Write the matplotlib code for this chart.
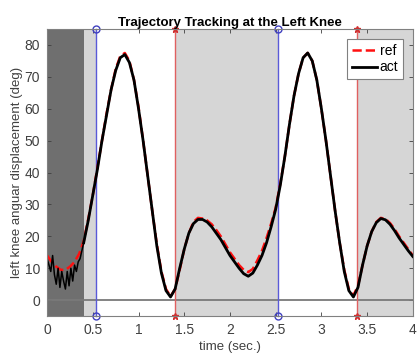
import numpy as np
import matplotlib
matplotlib.use('Agg')
import matplotlib.pyplot as plt

plt.rcParams['font.family'] = ['Liberation Sans', 'DejaVu Sans']

# measured knee angle (noisy start, then sampled every 0.05 s)
t_noise = np.arange(0, 0.40, 0.02)
act_noise = [13, 11, 9, 14, 8, 5, 10, 4, 9, 6, 3.5, 9, 4.5, 10, 6, 11, 9, 12, 13, 15.5]
t_main = np.arange(0.40, 4.001, 0.05)
act_main = [18, 25, 33, 41, 50, 58, 66, 72, 76, 77, 74.5, 69, 60, 50, 39, 28, 17, 8.5, 3, 1,
            3.5, 10, 16, 21, 24, 25.3, 25.3, 24.5, 23, 21, 19, 16.5, 14, 12, 10, 8.3, 7.5, 8.5,
            11, 14, 18, 23, 28.5, 36, 45, 55, 64, 71, 76, 77.5, 75, 69, 60, 50, 39, 28, 18, 9,
            3, 1, 4, 11, 17, 21.5, 24.3, 25.6, 25.2, 23.8, 21.8, 19.5, 17.5, 15.5, 13.7]

# reference trajectory
t_ref = np.arange(0, 4.001, 0.05)
ref = [14, 12, 10.5, 9.5, 9.5, 10.5, 12, 14.5, 18.5, 25.5, 33, 41.5, 50, 58.5, 66, 72.5, 76.5,
       77.5, 75, 69, 60.5, 50, 39, 28, 17.5, 9, 3.5, 1.2, 3.5, 9.5, 16, 21, 24.5, 25.8, 25.6,
       25, 23.8, 22, 20, 17.5, 15, 13, 11, 9.5, 8.8, 9.8, 12.5, 15.5, 19.5, 24, 29, 36.5, 45,
       55, 64, 71, 76, 77.5, 75, 69, 60, 50, 39, 28, 18, 9.5, 3.5, 1.5, 4.5, 11, 17, 21.5,
       24.5, 25.8, 25.5, 24.2, 22.3, 20, 18, 16, 14]

# gait phase markers
t_start = 0.40
t_blue = [0.535, 2.52]
t_red = [1.40, 3.39]

fig, ax = plt.subplots(figsize=(4.17, 3.54), dpi=100)
fig.subplots_adjust(left=0.113, right=0.990, top=0.918, bottom=0.107)

ylo, yhi = -5, 85
ax.axvspan(0, t_start, color='#6f6f6f', lw=0)
ax.axvspan(t_start, t_blue[0], color='#d6d6d6', lw=0)
ax.axvspan(t_red[0], t_blue[1], color='#d6d6d6', lw=0)
ax.axvspan(t_red[1], 4, color='#d6d6d6', lw=0)
ax.axhline(0, color='#7a7a7a', lw=1.3)

for tb in t_blue:
    ax.plot([tb, tb], [ylo, yhi], color='#5a5ad8', lw=1, clip_on=False)
    ax.plot([tb, tb], [ylo, yhi], 'o', color='#4040c0', mfc='none', ms=5, clip_on=False)
for tr in t_red:
    ax.plot([tr, tr], [ylo, yhi], color='#e06060', lw=1, clip_on=False)
    ax.plot([tr, tr], [ylo, yhi], '*', color='#d03030', ms=5, clip_on=False)

ax.plot(t_ref, ref, '--', color='#ff1010', lw=1.8, label='ref')
ax.plot(t_noise.tolist() + [t_main[0]], act_noise + [act_main[0]], '-', color='black', lw=1.1)
ax.plot(t_main, act_main, '-', color='black', lw=2, label='act')

ax.set_xlim(0, 4)
ax.set_ylim(ylo, yhi)
ax.set_xticks(np.arange(0, 4.01, 0.5))
ax.set_xticklabels(['0', '0.5', '1', '1.5', '2', '2.5', '3', '3.5', '4'])
ax.set_yticks(range(0, 81, 10))
ax.tick_params(direction='in', top=True, right=True, labelsize=10, colors='#404040',
               length=3, width=0.6, pad=5)
for s in ax.spines.values():
    s.set_color('#808080')
    s.set_linewidth(0.8)

ax.set_title('Trajectory Tracking at the Left Knee', fontsize=9.5, fontweight='bold', pad=2)
ax.set_xlabel('time (sec.)', fontsize=9.5, color='#404040', labelpad=3)
ax.set_ylabel('left knee anguar displacement (deg)', fontsize=9.5, color='#404040', labelpad=1)

leg = ax.legend(loc='upper right', fontsize=10, handlelength=1.8, borderpad=0.35,
                labelspacing=0.2, handletextpad=0.2, fancybox=False, framealpha=1,
                borderaxespad=0.7)
leg.get_frame().set_edgecolor('#808080')
leg.get_frame().set_linewidth(0.8)

plt.savefig('out.png', dpi=100)
